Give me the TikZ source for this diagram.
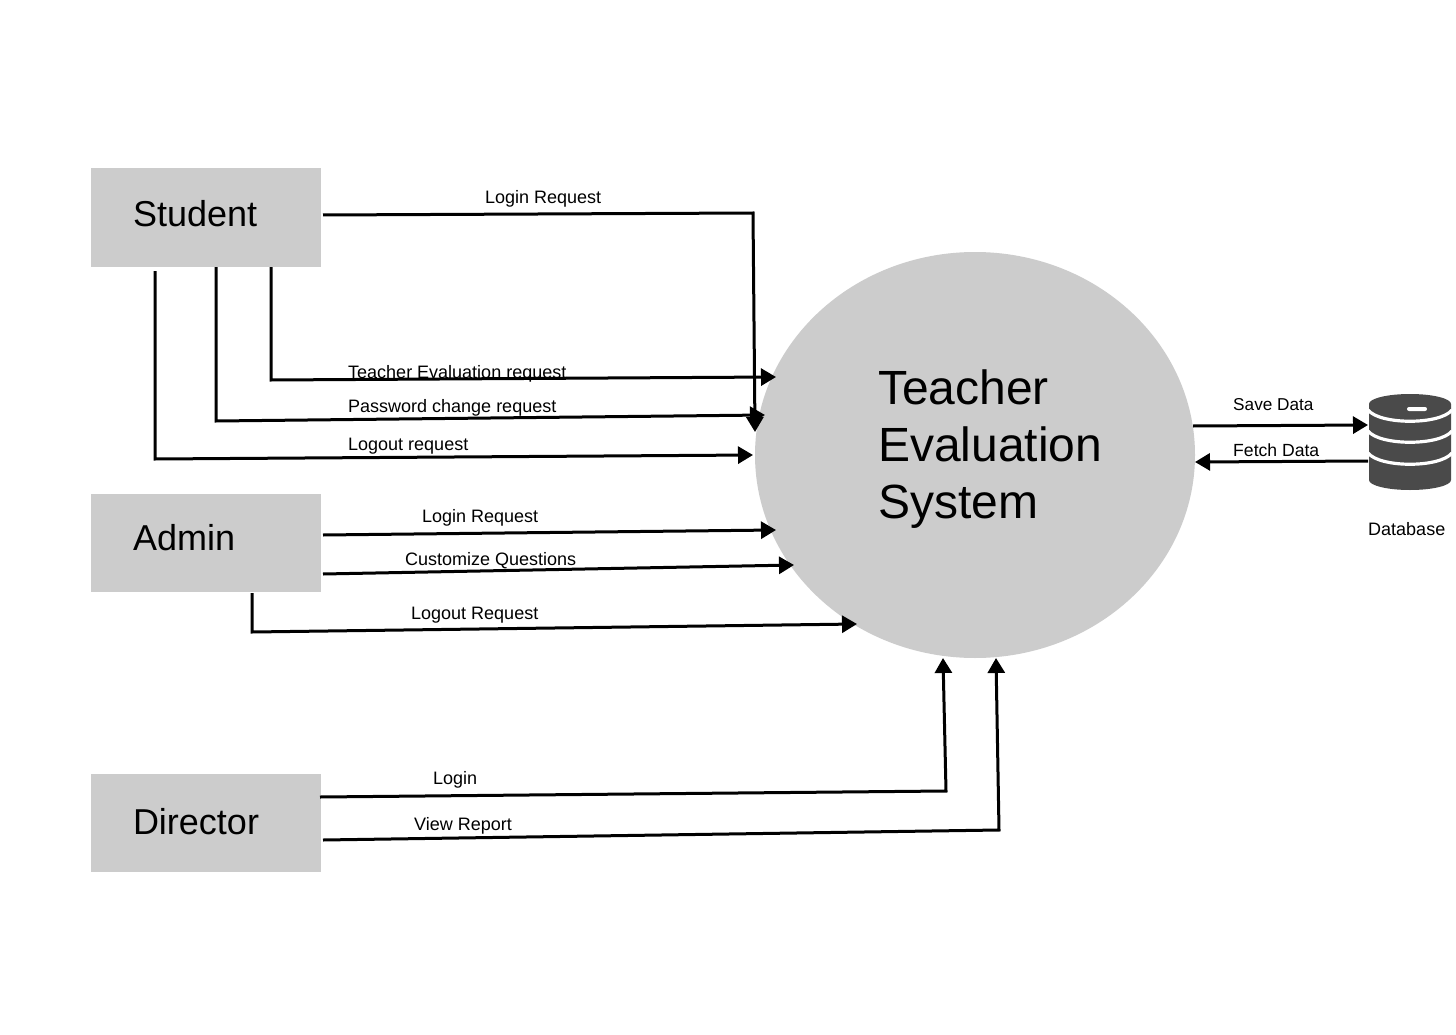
\documentclass[tikz,border=0pt]{standalone}
\usepackage{fontspec}
\setmainfont{Liberation Sans}
\usetikzlibrary{arrows.meta,shapes.geometric}
\definecolor{shapegray}{HTML}{CCCCCC}
\definecolor{dbgray}{HTML}{4A4A4A}
\newcommand{\liftby}[2]{\raisebox{#1}[\height][\depth]{#2}}
\tikzset{
  x=1pt,y=-1pt,
  actor/.style={fill=shapegray,draw=none,minimum width=230pt,minimum height=98pt,inner sep=0pt,text width=146pt,align=left,font=\fontsize{36}{40}\selectfont},
  proc/.style={ellipse,fill=shapegray,draw=none,minimum width=440pt,minimum height=406pt,inner sep=0pt,text width=194pt,align=left,font=\fontsize{48}{57}\selectfont},
  flow/.style={line width=3pt,-{Triangle[length=15pt,width=17pt]},line join=miter},
  lab/.style={anchor=base west,inner sep=0pt,font=\fontsize{18}{20}\selectfont},
  stripe/.style={draw=white,line width=3.2pt}
}
\begin{document}
\begin{tikzpicture}
\useasboundingbox (0,0) rectangle (1456,1035);
\fill[white] (0,0) rectangle (1456,1035);
\node[actor] (student) at (206,217.5) {\liftby{4pt}{Student}};
\node[actor] (admin) at (206,543) {\liftby{5pt}{Admin}};
\node[actor] (director) at (206,823) {\liftby{1pt}{Director}};
\node[proc] (tes) at (975,455) {\liftby{6pt}{Teacher}\\\liftby{6pt}{\mbox{Evaluation}}\\\liftby{6pt}{System}};
% database drawing
\fill[dbgray] (1369,404) arc[start angle=180,end angle=360,x radius=41,y radius=10] -- (1451,480) arc[start angle=0,end angle=180,x radius=41,y radius=10] -- cycle;
\draw[stripe] (1368,410) .. controls (1380,425) and (1440,425) .. (1452,410);
\draw[stripe] (1368,431) .. controls (1380,446) and (1440,446) .. (1452,431);
\draw[stripe] (1368,453) .. controls (1380,468) and (1440,468) .. (1452,453);
\fill[white,rounded corners=2pt] (1407,407) rectangle (1427,411);
% turning points
\coordinate (t1) at (753,213);
\coordinate (t2) at (271,380);
\coordinate (t3) at (216,421);
\coordinate (t4) at (155,459);
\coordinate (t7) at (252,632);
\coordinate (t8) at (946,791);
\coordinate (t9) at (999,830);
\coordinate (e1) at (755,432);
\coordinate (e2) at (776,377);
\coordinate (e3) at (765,415);
\coordinate (e4) at (753,455);
\coordinate (e5) at (776,530);
\coordinate (e6) at (794,565);
\coordinate (e7) at (857,624);
\coordinate (e8) at (943,658);
\coordinate (e9) at (996,658);
\coordinate (e10) at (1368,425);
\coordinate (e11) at (1195,462);
\coordinate (s1) at (323,215);
\coordinate (s2) at (271,267);
\coordinate (s3) at (216,267);
\coordinate (s4) at (155,271);
\coordinate (s5) at (323,535);
\coordinate (s6) at (323,574);
\coordinate (s7) at (252,593);
\coordinate (s8) at (320,797);
\coordinate (s9) at (323,840);
\coordinate (s10) at (1193,426);
\coordinate (s11) at (1368,461);
\draw[flow] (s1) -- (t1) -- (e1);
\draw[flow] (s2) -- (t2) -- (e2);
\draw[flow] (s3) -- (t3) -- (e3);
\draw[flow] (s4) -- (t4) -- (e4);
\draw[flow] (s5) -- (e5);
\draw[flow] (s6) -- (e6);
\draw[flow] (s7) -- (t7) -- (e7);
\draw[flow] (s8) -- (t8) -- (e8);
\draw[flow] (s9) -- (t9) -- (e9);
\draw[flow] (s10) -- (e10);
\draw[flow] (s11) -- (e11);
\node[lab] (l1) at (485,204) {Login Request};
\node[lab] (l2) at (348,378) {Teacher Evaluation request};
\node[lab] (l3) at (348,412) {Password change request};
\node[lab] (l4) at (348,450) {Logout request};
\node[lab] (l5) at (422,522) {Login Request};
\node[lab] (l6) at (405,565) {Customize Questions};
\node[lab] (l7) at (411,619) {Logout Request};
\node[lab] (l8) at (433,784) {Login};
\node[lab] (l9) at (414,830.5) {View Report};
\node[lab,font=\fontsize{17.2}{20}\selectfont] (l10) at (1233,410) {Save Data};
\node[lab,font=\fontsize{17.6}{20}\selectfont] (l11) at (1233,456) {Fetch Data};
\node[lab] (l12) at (1368,535) {Database};
\end{tikzpicture}
\end{document}
